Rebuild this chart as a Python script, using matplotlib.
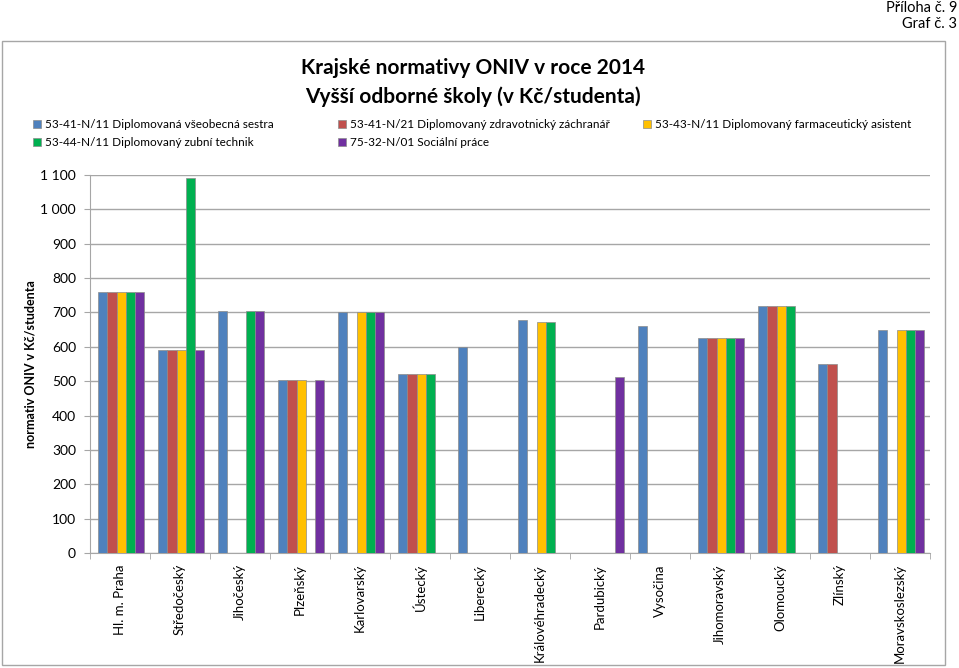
import numpy as np
import matplotlib.pyplot as plt
from matplotlib.patches import Rectangle
from matplotlib.ticker import FuncFormatter, MultipleLocator

plt.rcParams['font.family'] = ['Lato', 'DejaVu Sans']

regions = ['Hl. m. Praha', 'Středočeský', 'Jihočeský', 'Plzeňský', 'Karlovarský',
           'Ústecký', 'Liberecký', 'Královéhradecký', 'Pardubický', 'Vysočina',
           'Jihomoravský', 'Olomoucký', 'Zlínský', 'Moravskoslezský']

series_names = ['53-41-N/11 Diplomovaná všeobecná sestra',
                '53-41-N/21 Diplomovaný zdravotnický záchranář',
                '53-43-N/11 Diplomovaný farmaceutický asistent',
                '53-44-N/11 Diplomovaný zubní technik',
                '75-32-N/01 Sociální práce']

# None = no value for that region
sestra = [760, 591, 705, 502, 700, 522, 600, 677, None, 662, 625, 719, 550, 649]
zachranar = [760, 591, None, 502, None, 522, None, None, None, None, 625, 719, 550, None]
farmaceut = [760, 591, None, 502, 700, 522, None, 673, None, None, 625, 719, None, 649]
zubni = [760, 1092, 705, None, 700, 522, None, 673, None, None, 625, 719, None, 649]
socialni = [760, 591, 705, 502, 700, None, None, None, 513, None, 625, None, None, 649]

colors = ['#4F81BD', '#C0504D', '#FFC000', '#00B050', '#7030A0']

W, H = 959, 668
fig = plt.figure(figsize=(W / 100, H / 100), dpi=100)

# outer chart frame
fig.add_artist(Rectangle((2 / W, 3 / H), 943 / W, 624 / H, transform=fig.transFigure,
                         fill=False, edgecolor='#a6a6a6', linewidth=1))

ax = fig.add_axes([90 / W, 1 - 553 / H, 840 / W, (553 - 175) / H])

all_series = [sestra, zachranar, farmaceut, zubni, socialni]
x = np.arange(len(regions))
bw = 0.153
bars = []
for i, (vals, name, c) in enumerate(zip(all_series, series_names, colors)):
    v = np.array([np.nan if a is None else a for a in vals], dtype=float)
    b = ax.bar(x + (i - 2) * bw + 0.02, v, bw, color=c, edgecolor='#8c8c8c',
               linewidth=0.5, label=name, zorder=3)
    bars.append(b)

ax.set_xlim(-0.5, len(regions) - 0.5)
ax.set_ylim(0, 1100)
ax.yaxis.set_major_locator(MultipleLocator(100))
ax.yaxis.set_major_formatter(FuncFormatter(lambda v, p: f'{int(v):,}'.replace(',', ' ')))
ax.grid(axis='y', color='#a6a6a6', linewidth=1, zorder=0)
ax.set_axisbelow(True)

for s in ['top', 'right']:
    ax.spines[s].set_visible(False)
for s in ['left', 'bottom']:
    ax.spines[s].set_color('#a6a6a6')

ax.set_xticks(x)
ax.set_xticklabels(regions, rotation=90, fontsize=9.5)
ax.tick_params(axis='x', length=0, pad=8)
ax.set_xticks(np.arange(-0.5, len(regions)), minor=True)
ax.tick_params(axis='x', which='minor', length=4, color='#a6a6a6')
ax.tick_params(axis='y', length=4, color='#a6a6a6', labelsize=10, pad=6)

ax.set_ylabel('normativ ONIV v Kč/studenta', fontsize=9, fontweight='bold', labelpad=3)

fig.text(473 / W, 1 - 68 / H, 'Krajské normativy ONIV v roce 2014', ha='center', va='center',
         fontsize=15, fontweight='bold')
fig.text(473 / W, 1 - 97 / H, 'Vyšší odborné školy (v Kč/studenta)', ha='center', va='center',
         fontsize=15, fontweight='bold')

fig.text(957 / W, 1 - 8 / H, 'Příloha č. 9', ha='right', va='center', fontsize=10.5)
fig.text(957 / W, 1 - 24 / H, 'Graf č. 3', ha='right', va='center', fontsize=10.5)

# legend: three columns placed like the original
columns = [([0, 3], 33), ([1, 4], 338), ([2], 643)]
for idx, xpos in columns:
    leg = fig.legend([bars[i] for i in idx], [series_names[i] for i in idx],
                     loc='upper left', bbox_to_anchor=(xpos / W, 1 - 119 / H),
                     frameon=False, fontsize=8.5, handlelength=0.7, handleheight=0.7,
                     handletextpad=0.3, borderpad=0, borderaxespad=0, labelspacing=0.6)

fig.savefig('out.png', dpi=100)
